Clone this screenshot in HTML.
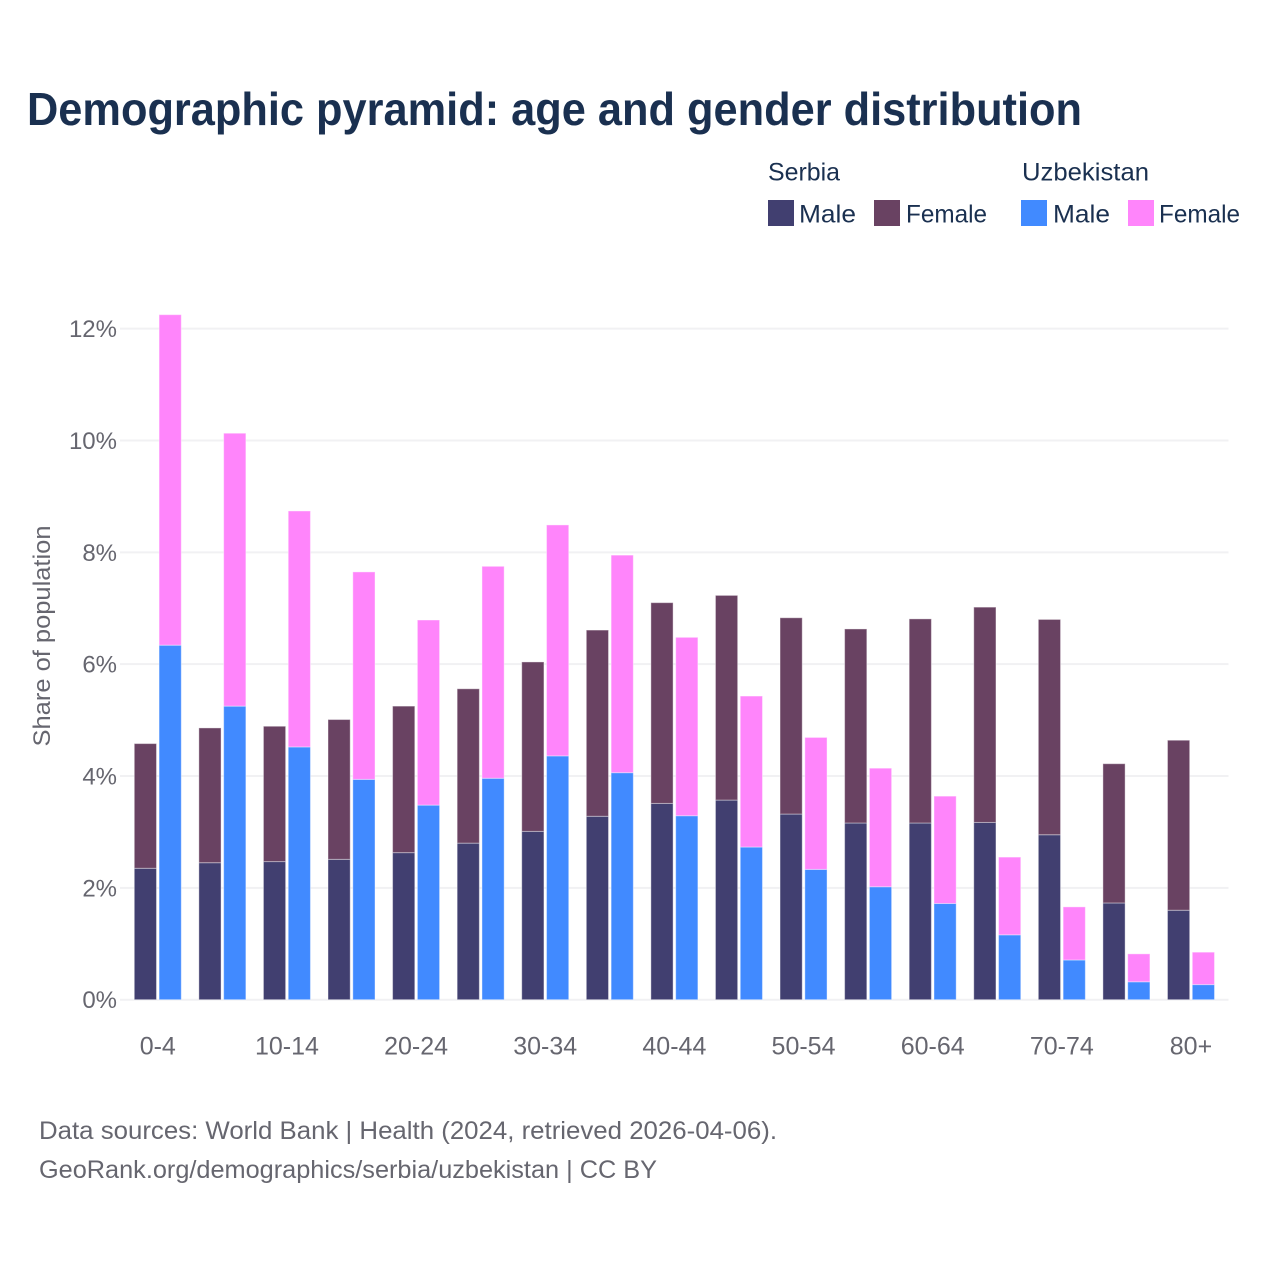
<!DOCTYPE html>
<html lang="en">
<head>
<meta charset="utf-8">
<title>Demographic pyramid: age and gender distribution</title>
<style>
html,body{margin:0;padding:0;background:#fff;}
svg{display:block;font-family:"Liberation Sans",sans-serif;}
</style>
</head>
<body>
<svg id="chart" xmlns="http://www.w3.org/2000/svg" width="1280" height="1280" viewBox="0 0 1280 1280">
  <text x="27" y="125" font-size="46" font-weight="700" fill="#1a3050" textLength="1055" lengthAdjust="spacingAndGlyphs">Demographic pyramid: age and gender distribution</text>
  <g font-size="25" fill="#1a3050">
    <text x="768" y="180.5" textLength="72" lengthAdjust="spacingAndGlyphs">Serbia</text>
    <text x="1022" y="180.5" textLength="127" lengthAdjust="spacingAndGlyphs">Uzbekistan</text>
    <rect x="768" y="200" width="26" height="26" fill="#413f70"/>
    <text x="799" y="222.5" textLength="57" lengthAdjust="spacingAndGlyphs">Male</text>
    <rect x="874" y="200" width="26" height="26" fill="#694262"/>
    <text x="906" y="222.5" textLength="81" lengthAdjust="spacingAndGlyphs">Female</text>
    <rect x="1021" y="200" width="26" height="26" fill="#418aff"/>
    <text x="1053" y="222.5" textLength="57" lengthAdjust="spacingAndGlyphs">Male</text>
    <rect x="1128" y="200" width="26" height="26" fill="#ff85fb"/>
    <text x="1159" y="222.5" textLength="81" lengthAdjust="spacingAndGlyphs">Female</text>
  </g>
  <g id="grid"></g>
  <g id="bars"></g>
  <g id="yticks"></g>
  <g id="xticks"></g>
  <text transform="translate(50,636) rotate(-90)" text-anchor="middle" font-size="24" fill="#66666f" textLength="221" lengthAdjust="spacingAndGlyphs">Share of population</text>
  <text x="39" y="1139" font-size="25" fill="#66666f" textLength="738" lengthAdjust="spacingAndGlyphs">Data sources: World Bank | Health (2024, retrieved 2026-04-06).</text>
  <text x="39" y="1178" font-size="25" fill="#66666f" textLength="618" lengthAdjust="spacingAndGlyphs">GeoRank.org/demographics/serbia/uzbekistan | CC BY</text>
</svg>
<script>
const categories = ["0-4","5-9","10-14","15-19","20-24","25-29","30-34","35-39","40-44","45-49","50-54","55-59","60-64","65-69","70-74","75-79","80+"];
const tickLabels = ["0-4","10-14","20-24","30-34","40-44","50-54","60-64","70-74","80+"];
const yTicks = [0,2,4,6,8,10,12];
const serbiaMale = [2.35,2.45,2.47,2.51,2.63,2.80,3.01,3.28,3.51,3.57,3.32,3.16,3.16,3.17,2.95,1.73,1.60];
const serbiaFemale = [2.23,2.41,2.42,2.50,2.62,2.76,3.03,3.33,3.59,3.66,3.51,3.47,3.65,3.85,3.85,2.49,3.04];
const uzbekistanMale = [6.34,5.25,4.52,3.94,3.48,3.96,4.36,4.06,3.29,2.73,2.33,2.02,1.72,1.16,0.71,0.32,0.27];
const uzbekistanFemale = [5.91,4.88,4.22,3.71,3.31,3.79,4.13,3.89,3.19,2.70,2.36,2.12,1.92,1.39,0.95,0.50,0.58];

const NS = "http://www.w3.org/2000/svg";
const gridLeft = 120, plotLeft = 125.5, plotRight = 1228.5, bandStep = 64.575, baseY = 999.7, pxPerUnit = 55.92;
const barWidth = 22.2, barGap = 2.6;
const yScale = v => baseY - v * pxPerUnit;
const xCenter = i => plotLeft + bandStep * (i + 0.5);

function make(tag, parent, attrs) {
  const el = document.createElementNS(NS, tag);
  for (const k in attrs) el.setAttribute(k, attrs[k]);
  parent.appendChild(el);
  return el;
}

const grid = document.getElementById("grid");
const yticksG = document.getElementById("yticks");
yTicks.forEach(t => {
  const line = make("line", grid, {x1: gridLeft, x2: plotRight, y1: yScale(t), y2: yScale(t), stroke: "#f1f1f3", "stroke-width": 2});
  
  
  const label = make("text", yticksG, {x: 117, y: yScale(t) + 8.5, "text-anchor": "end", "font-size": 24, fill: "#66666f"});
  
  
  label.textContent = t + "%";
});

const xticksG = document.getElementById("xticks");
categories.forEach((c, i) => {
  if (!tickLabels.includes(c)) return;
  const label = make("text", xticksG, {x: xCenter(i), y: 1054.5, "text-anchor": "middle", "font-size": 25, fill: "#66666f"});
  
  
  label.textContent = c;
});

const barsG = document.getElementById("bars");
function drawBar(x, bottomValue, value, color) {
  const y0 = yScale(bottomValue), y1 = yScale(bottomValue + value);
  const bar = make("rect", barsG, {x: x, y: y1, width: barWidth, height: y0 - y1, fill: color, stroke: "#ffffff", "stroke-opacity": 0.4, "stroke-width": 1});
  
  
}
categories.forEach((c, i) => {
  const cx = xCenter(i);
  const leftX = cx - barGap / 2 - barWidth;
  const rightX = cx + barGap / 2;
  drawBar(leftX, 0, serbiaMale[i], "#413f70");
  drawBar(leftX, serbiaMale[i], serbiaFemale[i], "#694262");
  drawBar(rightX, 0, uzbekistanMale[i], "#418aff");
  drawBar(rightX, uzbekistanMale[i], uzbekistanFemale[i], "#ff85fb");
});
</script>
</body>
</html>
